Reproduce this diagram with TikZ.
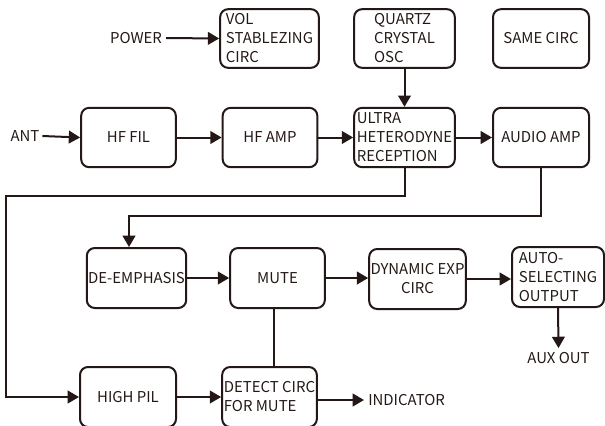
\documentclass[tikz,border=0pt]{standalone}
\usepackage{fontspec}
\setmainfont{Noto Sans CJK SC}
\usetikzlibrary{arrows.meta}
\definecolor{ink}{HTML}{231815}
\begin{document}
\begin{tikzpicture}[x=0.75pt,y=-0.75pt,
  every node/.style={text=ink, font=\fontsize{11.2pt}{14.25pt}\selectfont},
  blk/.style={draw=ink, line width=1.5pt, rounded corners=6pt, align=left, inner sep=1pt},
  lbl/.style={inner sep=3pt},
  arr/.style={draw=ink, line width=1.5pt, -{Triangle[length=8.5pt,width=9.5pt]}},
  ln/.style={draw=ink, line width=1.5pt}]
\useasboundingbox (0,0) rectangle (605,425);
% row 1
\node[blk, minimum width=74pt, minimum height=44pt] (vol) at (269.5,38.5) {VOL\\STABLEZING\\CIRC};
\node[blk, minimum width=75.5pt, minimum height=44pt] (qtz) at (404.5,38.5) {QUARTZ\\CRYSTAL\\OSC};
\node[blk, minimum width=72pt, minimum height=44pt] (same) at (541,38.5) {SAME CIRC};
\node[lbl] (power) at (136,38) {POWER};
% row 2
\node[blk, minimum width=71pt, minimum height=44.5pt] (hffil) at (128.5,137.5) {HF FIL};
\node[blk, minimum width=71pt, minimum height=44.5pt] (hfamp) at (270,137.5) {HF AMP};
\node[blk, minimum width=75.5pt, minimum height=44.5pt] (ultra) at (404.5,137.5) {ULTRA\\HETERODYNE\\RECEPTION};
\node[blk, minimum width=72pt, minimum height=44.5pt] (audio) at (541,137.5) {AUDIO AMP};
\node[lbl, inner xsep=2pt] (ant) at (25,136) {ANT};
% row 3
\node[blk, minimum width=71pt, minimum height=45pt] (deemph) at (136.5,278) {DE-EMPHASIS};
\node[blk, minimum width=71pt, minimum height=45pt] (mute) at (277.5,278) {MUTE};
\node[blk, minimum width=71pt, minimum height=45pt, align=center] (dyn) at (417.5,279) {DYNAMIC EXP\\CIRC};
\node[blk, minimum width=69pt, minimum height=45pt] (auto) at (558,277) {AUTO-\\SELECTING\\OUTPUT};
\node[lbl] (auxout) at (558.5,358) {AUX OUT};
% row 4
\node[blk, minimum width=72pt, minimum height=45pt] (highpil) at (128,397) {HIGH PIL};
\node[blk, minimum width=71pt, minimum height=45pt] (detect) at (269.5,397) {DETECT CIRC\\FOR MUTE};
\node[lbl, anchor=west] (indicator) at (364,400) {INDICATOR};
% helper coordinates
\coordinate (c1) at (6,196);
\coordinate (c2) at (129,216);
\coordinate (mx) at (274,337);
% connectors
\draw[arr] (power.east) -- (vol.west);
\draw[arr] (qtz.south) -- (ultra.north);
\draw[arr] (ant.east) -- (hffil.west);
\draw[arr] (hffil.east) -- (hfamp.west);
\draw[arr] (hfamp.east) -- (ultra.west);
\draw[arr] (ultra.east) -- (audio.west);
\draw[arr] (ultra.south) |- (c1) |- (highpil.west);
\draw[arr] (audio.south) |- (c2) -- (c2 |- deemph.north);
\draw[arr] (deemph.east) -- (mute.west);
\draw[arr] (mute.east) -- (dyn.west |- mute.east);
\draw[arr] (dyn.east) -- (auto.west |- dyn.east);
\draw[arr] (auto.south) -- (auxout.north);
\draw[ln] (mute.south -| mx) -- (detect.north -| mx);
\draw[arr] (highpil.east) -- (detect.west);
\draw[arr] (detect.east |- indicator.west) -- (indicator.west);
\end{tikzpicture}
\end{document}
